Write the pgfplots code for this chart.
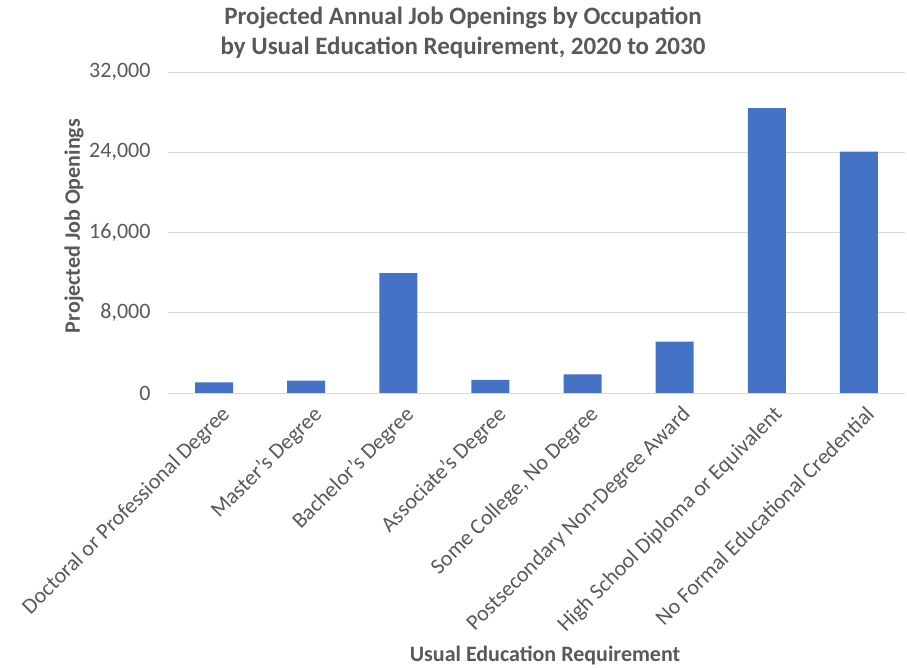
\documentclass[border=0pt]{standalone}
\usepackage{pgfplots}
\pgfplotsset{compat=1.18}
\usepackage{fontspec}
\setmainfont{Carlito}
\definecolor{barblue}{HTML}{4472C4}
\definecolor{txtgray}{HTML}{595959}
\definecolor{gridgray}{HTML}{D9D9D9}
\begin{document}
\begin{tikzpicture}
\useasboundingbox (0,0) rectangle (907pt,668pt);
\begin{axis}[
  at={(168pt,275pt)}, anchor=south west,
  scale only axis,
  width=737pt, height=321pt,
  ybar, bar width=38pt,
  xmin=-0.5, xmax=7.5,
  ymin=0, ymax=32000,
  ytick={0,8000,16000,24000,32000},
  xtick=data,
  xticklabels={Doctoral or Professional Degree, Master's Degree, Bachelor's Degree, Associate's Degree, {Some College, No Degree}, Postsecondary Non-Degree Award, High School Diploma or Equivalent, No Formal Educational Credential},
  x tick label style={rotate=45, anchor=north east, font=\fontsize{22}{24}\selectfont, text=txtgray, inner sep=1pt, xshift=-3pt, yshift=-11pt},
  y tick label style={font=\fontsize{22}{24}\selectfont, text=txtgray, anchor=east, xshift=-14pt},
  /pgf/number format/assume math mode=true,
  /pgf/number format/1000 sep={,},
  scaled y ticks=false,
  ymajorgrids, grid style={gridgray, line width=0.9pt},
  major tick length=0pt,
  axis x line*=bottom,
  axis y line*=left,
  x axis line style={draw=gridgray, line width=0.9pt, -},
  y axis line style={draw=none},
  tick style={draw=none},
]
\addplot[fill=barblue, draw=none] coordinates {(0,1050) (1,1230) (2,11960) (3,1300) (4,1850) (5,5110) (6,28410) (7,24050)};
\end{axis}
\node[font=\bfseries\fontsize{25}{30}\selectfont, text=txtgray, align=center] at (463pt,635pt) {Projected Annual Job Openings by Occupation\\by Usual Education Requirement, 2020 to 2030};
\node[font=\bfseries\fontsize{22}{24}\selectfont, text=txtgray, rotate=90] at (74pt,442pt) {Projected Job Openings};
\node[font=\bfseries\fontsize{22}{24}\selectfont, text=txtgray] at (545pt,13pt) {Usual Education Requirement};
\end{tikzpicture}
\end{document}
